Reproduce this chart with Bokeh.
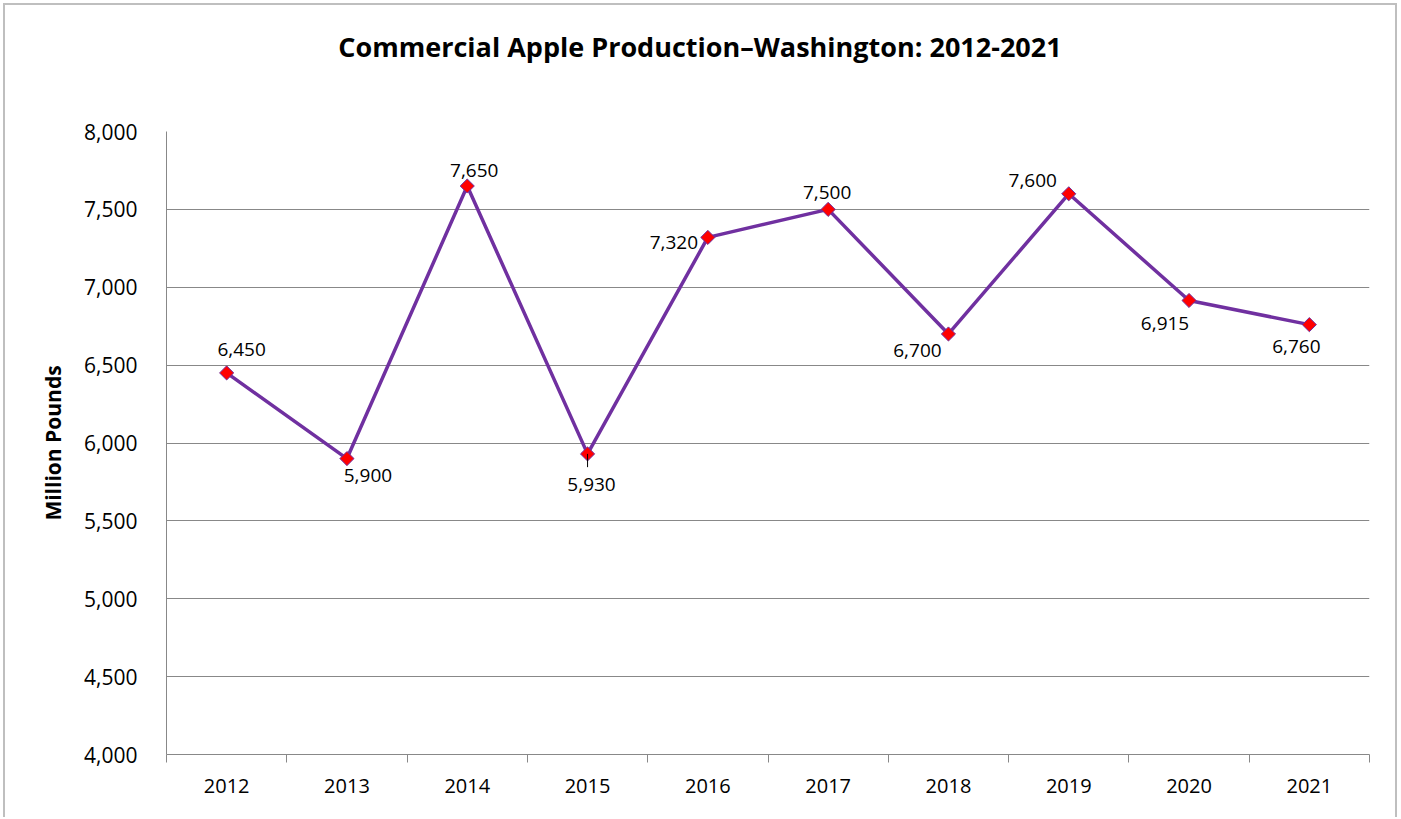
from bokeh.plotting import figure
from bokeh.layouts import column
from bokeh.models import ColumnDataSource, LabelSet, Div, FixedTicker, NumeralTickFormatter, Range1d
from bokeh.core.properties import value
from bokeh.embed import file_html
from bokeh.resources import INLINE
import math

# ---- data ----
years = [2012, 2013, 2014, 2015, 2016, 2017, 2018, 2019, 2020, 2021]
production = [6450, 5900, 7650, 5930, 7320, 7500, 6700, 7600, 6915, 6760]
year_labels = ["2012", "2013", "2014", "2015", "2016", "2017", "2018", "2019", "2020", "2021"]
y_ticks = [4000, 4500, 5000, 5500, 6000, 6500, 7000, 7500, 8000]
chart_title = "Commercial Apple Production\u2013Washington: 2012-2021"
y_title = "Million Pounds"

# label placement (pixels; positive dy = up)
label_dx = [15, 21, 7, 4, -34, -1, -31, -36, -24, -13]
label_dy = [23, -17, 16, -31, -5, 17, -17, 13, -23, -22]

FONT = "Open Sans"
PURPLE = "#7030A0"
GRID = "#888888"

src = ColumnDataSource(dict(
    x=years, y=production,
    txt=[f"{v:,}" for v in production],
    dx=label_dx, dy=label_dy,
))

TITLE_H = 80
W = 1390

title_div = Div(
    text=(f'<div style="font-family:\'{FONT}\';font-size:27px;font-weight:bold;'
          f'color:black;text-align:center;width:{W}px;padding-top:24px;'
          f'line-height:36px;margin:0;">{chart_title}</div>'),
    width=W, height=TITLE_H, margin=0,
)

p = figure(
    width=W, height=812 - TITLE_H,
    x_range=Range1d(years[0] - 0.5, years[-1] + 0.5),
    y_range=Range1d(y_ticks[0], y_ticks[-1]),
    output_backend="svg", toolbar_location=None,
    min_border_left=161, min_border_right=26,
    min_border_top=46, min_border_bottom=63,
)
p.title.text = ""
p.outline_line_color = None
p.background_fill_color = "white"
p.border_fill_color = "white"

# x axis
xa = p.xaxis[0]
xa.ticker = FixedTicker(ticks=years,
                        minor_ticks=[y - 0.5 for y in years] + [years[-1] + 0.5])
xa.major_label_overrides = {y: lab for y, lab in zip(years, year_labels)}
xa.major_tick_line_color = None
xa.major_tick_out = 0
xa.major_tick_in = 0
xa.minor_tick_line_color = GRID
xa.minor_tick_out = 8
xa.minor_tick_in = 0
xa.axis_line_color = GRID
xa.major_label_text_font = FONT
xa.major_label_text_font_size = "20px"
xa.major_label_text_color = "black"
xa.major_label_standoff = 16

# y axis
ya = p.yaxis[0]
ya.ticker = FixedTicker(ticks=y_ticks)
ya.formatter = NumeralTickFormatter(format="0,0")
ya.major_tick_line_color = None
ya.major_tick_out = 0
ya.major_tick_in = 0
ya.minor_tick_line_color = None
ya.axis_line_color = GRID
ya.major_label_text_font = FONT
ya.major_label_text_font_size = "21px"
ya.major_label_text_color = "black"
ya.major_label_standoff = 29
ya.axis_label = y_title
ya.axis_label_text_font = FONT
ya.axis_label_text_font_size = "21px"
ya.axis_label_text_font_style = "bold"
ya.axis_label_text_color = "black"
ya.axis_label_standoff = 14

p.xgrid.grid_line_color = None
p.ygrid.grid_line_color = GRID
p.ygrid.grid_line_width = 1

# series
p.line("x", "y", source=src, line_color=PURPLE, line_width=3.5)
p.scatter("x", "y", source=src, marker="square", size=10, angle=math.pi / 4,
          fill_color="#FF0000", line_color=PURPLE, line_width=1)

# leader line for 2015 label
i = 3
p.segment(x0=[years[i]], y0=[production[i]], x1=[years[i]], y1=[production[i] - 85],
          line_color="black", line_width=1)

labels = LabelSet(x="x", y="y", text="txt", source=src, x_offset="dx", y_offset="dy",
                  text_align="center", text_baseline="middle",
                  text_font=value(FONT), text_font_size="19px", text_color="black")
p.add_layout(labels)

layout = column(title_div, p, spacing=0,
                styles={"margin-left": "3px", "margin-top": "3px",
                        "border-left": "2px solid #BFBFBF", "border-top": "2px solid #BFBFBF",
                        "border-right": "2px solid #BFBFBF", "background": "white"})

open("out.html", "w").write(file_html(layout, INLINE))
